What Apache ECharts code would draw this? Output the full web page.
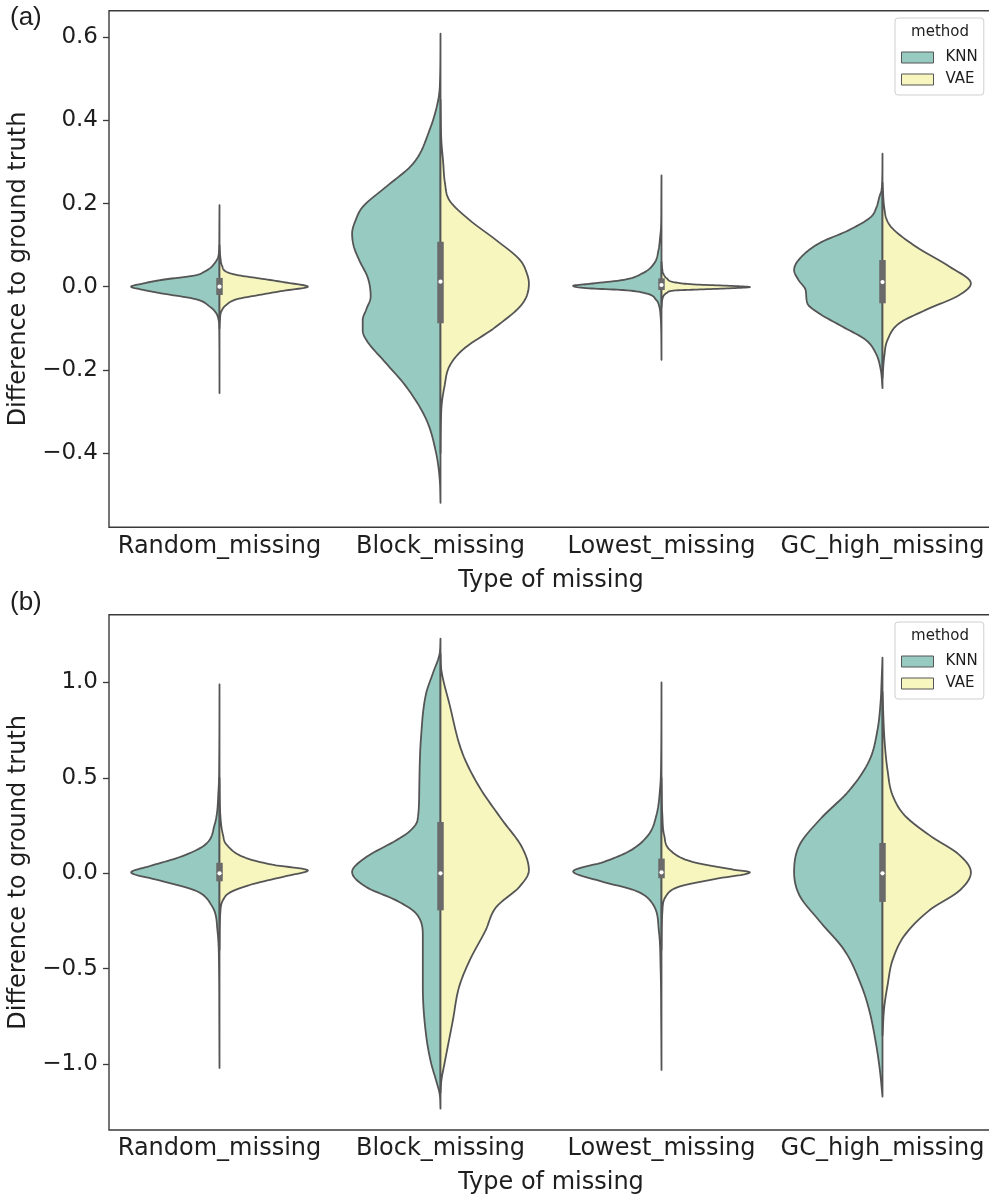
<!DOCTYPE html>
<html><head><meta charset="utf-8">
<script src="https://cdn.jsdelivr.net/npm/echarts@6/dist/echarts.min.js"></script>
<style>html,body{margin:0;padding:0;background:#fff}#c{width:989px;height:1196px}</style>
</head><body><div id="c"></div>
<script>
// ---------------- data ----------------
const categories = ['Random_missing', 'Block_missing', 'Lowest_missing', 'GC_high_missing'];
const methods = ['KNN', 'VAE'];
const xTitle = 'Type of missing';
const yTitle = 'Difference to ground truth';
const legendTitle = 'method';
const panelLabels = ['(a)', '(b)'];

const yTicksA = [-0.4, -0.2, 0, 0.2, 0.4, 0.6];
const yLabelsA = ['\u22120.4', '\u22120.2', '0.0', '0.2', '0.4', '0.6'];
const yTicksB = [-1.0, -0.5, 0, 0.5, 1.0];
const yLabelsB = ['\u22121.0', '\u22120.5', '0.0', '0.5', '1.0'];

// violin half profiles: [value, relative density (0..1)] from top to bottom
// panel (a)
const a_random_knn = [[0.196,0],[0.12,0.002],[0.088,0.004],[0.069,0.02],[0.055,0.06],[0.044,0.11],[0.035,0.18],[0.028,0.26],[0.016,0.66],[0.007,0.88],[0,1],[-0.007,0.88],[-0.016,0.66],[-0.03,0.27],[-0.048,0.11],[-0.063,0.04],[-0.08,0.01],[-0.1,0.003],[-0.256,0]];
const a_random_vae = [[0.1,0],[0.07,0.01],[0.05,0.03],[0.036,0.076],[0.028,0.2],[0.02,0.45],[0.01,0.75],[0,1],[-0.01,0.72],[-0.02,0.45],[-0.03,0.2],[-0.044,0.076],[-0.06,0.02],[-0.08,0.005],[-0.1,0]];
const a_block_knn = [[0.609,0],[0.5,0.005],[0.456,0.02],[0.376,0.125],[0.296,0.31],[0.24,0.617],[0.192,0.88],[0.16,0.96],[0.128,1.0],[0.096,0.98],[0.064,0.92],[0.02,0.82],[-0.024,0.79],[-0.055,0.84],[-0.08,0.88],[-0.105,0.88],[-0.128,0.84],[-0.184,0.617],[-0.24,0.39],[-0.32,0.16],[-0.4,0.05],[-0.46,0.01],[-0.52,0]];
const a_block_vae = [[0.45,0],[0.35,0.01],[0.3,0.03],[0.25,0.05],[0.208,0.1],[0.16,0.33],[0.112,0.63],[0.064,0.9],[0.03,0.98],[0.008,1.0],[-0.04,0.93],[-0.096,0.63],[-0.152,0.25],[-0.192,0.1],[-0.24,0.045],[-0.28,0.015],[-0.33,0.004],[-0.4,0]];
const a_lowest_knn = [[0.268,0],[0.2,0.002],[0.144,0.005],[0.12,0.015],[0.088,0.034],[0.056,0.083],[0.032,0.216],[0.016,0.44],[0.0067,0.82],[0.002,1.0],[-0.004,0.82],[-0.008,0.44],[-0.016,0.18],[-0.032,0.06],[-0.048,0.025],[-0.072,0.01],[-0.1,0.004],[-0.176,0]];
const a_lowest_vae = [[0.06,0],[0.04,0.01],[0.032,0.02],[0.02,0.06],[0.01,0.16],[0.005,0.4],[0.002,0.77],[-0.001,1.0],[-0.004,0.77],[-0.007,0.4],[-0.009,0.16],[-0.015,0.06],[-0.02,0.03],[-0.03,0.01],[-0.05,0]];
const a_gc_knn = [[0.32,0],[0.26,0.003],[0.232,0.012],[0.216,0.035],[0.19,0.07],[0.168,0.13],[0.136,0.38],[0.104,0.72],[0.064,0.95],[0.04,1.0],[0.016,0.95],[-0.008,0.87],[-0.04,0.85],[-0.064,0.72],[-0.096,0.455],[-0.128,0.19],[-0.16,0.076],[-0.2,0.02],[-0.244,0]];
const a_gc_vae = [[0.25,0],[0.23,0.005],[0.19,0.02],[0.16,0.05],[0.14,0.113],[0.096,0.38],[0.048,0.76],[0.008,1.0],[-0.02,0.87],[-0.056,0.49],[-0.088,0.19],[-0.128,0.057],[-0.168,0.02],[-0.22,0]];
// panel (b)
const b_random_knn = [[0.99,0],[0.6,0.003],[0.435,0.011],[0.252,0.057],[0.147,0.17],[0.084,0.455],[0.037,0.795],[0.005,1.0],[-0.037,0.68],[-0.089,0.28],[-0.168,0.09],[-0.3,0.023],[-0.51,0.005],[-0.8,0.002],[-1.02,0]];
const b_random_vae = [[0.5,0],[0.3,0.01],[0.2,0.04],[0.15,0.08],[0.08,0.3],[0.045,0.6],[0.015,1.0],[-0.015,0.75],[-0.06,0.35],[-0.1,0.12],[-0.14,0.04],[-0.2,0.01],[-0.4,0]];
const b_block_knn = [[1.23,0],[1.151,0.01],[1.047,0.087],[0.942,0.163],[0.715,0.22],[0.452,0.24],[0.278,0.26],[0.22,0.35],[0.173,0.5],[0.085,0.84],[0.007,1.0],[-0.072,0.84],[-0.142,0.5],[-0.211,0.275],[-0.334,0.2],[-0.596,0.2],[-0.858,0.16],[-0.997,0.105],[-1.085,0.05],[-1.155,0.01],[-1.233,0]];
const b_block_vae = [[1.15,0],[1.064,0.01],[0.889,0.1],[0.627,0.25],[0.452,0.44],[0.278,0.7],[0.138,0.92],[0.016,1.0],[-0.072,0.89],[-0.177,0.63],[-0.299,0.51],[-0.456,0.33],[-0.596,0.21],[-0.77,0.14],[-0.997,0.045],[-1.085,0.01],[-1.15,0]];
const b_lowest_knn = [[1.0,0],[0.6,0.004],[0.45,0.015],[0.3,0.06],[0.2,0.15],[0.12,0.35],[0.06,0.65],[0.01,1.0],[-0.04,0.7],[-0.09,0.3],[-0.16,0.1],[-0.3,0.03],[-0.5,0.01],[-0.8,0.003],[-1.03,0]];
const b_lowest_vae = [[0.5,0],[0.3,0.01],[0.2,0.03],[0.12,0.1],[0.06,0.35],[0.02,0.8],[0.005,1.0],[-0.03,0.6],[-0.07,0.2],[-0.12,0.05],[-0.2,0.01],[-0.4,0]];
const b_gc_knn = [[1.13,0],[1.01,0.01],[0.907,0.02],[0.75,0.057],[0.59,0.15],[0.435,0.375],[0.278,0.716],[0.147,0.94],[0.005,1.0],[-0.115,0.94],[-0.246,0.72],[-0.404,0.43],[-0.587,0.24],[-0.718,0.15],[-0.875,0.08],[-1.03,0.03],[-1.17,0]];
const b_gc_vae = [[0.95,0],[0.697,0.023],[0.54,0.057],[0.41,0.113],[0.304,0.25],[0.2,0.53],[0.094,0.875],[0.005,1.0],[-0.089,0.875],[-0.194,0.53],[-0.325,0.25],[-0.456,0.113],[-0.587,0.057],[-0.7,0.02],[-0.85,0]];

// inner box statistics per category
const boxQ1A = [-0.020, -0.088, -0.008, -0.040];
const boxQ3A = [0.021, 0.108, 0.020, 0.064];
const boxMedA = [0.0, 0.012, 0.004, 0.011];
const boxQ1B = [-0.042, -0.194, -0.026, -0.150];
const boxQ3B = [0.055, 0.269, 0.077, 0.159];
const boxMedB = [0.0, 0.0, 0.005, 0.0];

// ---------------- styles ----------------
const KNN_COLOR = '#97cac1';
const VAE_COLOR = '#f7f6bf';
const OUTLINE = '#555555';
const BOX_COLOR = '#6a6a6a';
const FRAME = '#3a3a3a';
const TEXT = '#1e1e1e';
const FONT = 'DejaVu Sans';
const VIOLIN_WIDTH = 0.8;

// monotone cubic (x as a function of pixel y) to draw smooth outlines
function smoothEdge(pts, n) {
  const N = pts.length;
  if (N < 3) return pts.slice();
  const ys = pts.map(p => p[1]), xs = pts.map(p => p[0]);
  const d = [], m = new Array(N);
  for (let k = 0; k < N - 1; k++) d.push((xs[k + 1] - xs[k]) / (ys[k + 1] - ys[k]));
  m[0] = d[0]; m[N - 1] = d[N - 2];
  for (let k = 1; k < N - 1; k++) m[k] = (d[k - 1] * d[k] <= 0) ? 0 : (d[k - 1] + d[k]) / 2;
  for (let k = 0; k < N - 1; k++) {
    if (d[k] === 0) { m[k] = 0; m[k + 1] = 0; continue; }
    const a = m[k] / d[k], b = m[k + 1] / d[k], s = a * a + b * b;
    if (s > 9) { const t = 3 / Math.sqrt(s); m[k] = t * a * d[k]; m[k + 1] = t * b * d[k]; }
  }
  const out = [];
  for (let k = 0; k < N - 1; k++) {
    const h = ys[k + 1] - ys[k];
    for (let s = 0; s < n; s++) {
      const t = s / n, t2 = t * t, t3 = t2 * t;
      const x = (2 * t3 - 3 * t2 + 1) * xs[k] + (t3 - 2 * t2 + t) * h * m[k] + (-2 * t3 + 3 * t2) * xs[k + 1] + (t3 - t2) * h * m[k + 1];
      out.push([x, ys[k] + t * h]);
    }
  }
  out.push(pts[N - 1]);
  return out;
}

function halfRenderer(profiles, side, fill) {
  return function (params, api) {
    const i = params.dataIndex;
    const prof = profiles[i];
    const band = api.size([1, 0])[0];
    const maxHalf = VIOLIN_WIDTH / 2 * band;
    const cx = api.coord([i, 0])[0];
    const raw = prof.map(([v, w]) => [cx + side * w * maxHalf, api.coord([i, v])[1]]);
    const edge = smoothEdge(raw, 10).map(p => [side > 0 ? Math.max(p[0], cx) : Math.min(p[0], cx), p[1]]);
    return {
      type: 'polygon',
      shape: { points: edge },
      style: { fill: fill, stroke: OUTLINE, lineWidth: 1.8, lineJoin: 'round' }
    };
  };
}

function boxRenderer(params, api) {
  const i = api.value(0);
  const lo = api.coord([i, api.value(1)]);
  const hi = api.coord([i, api.value(2)]);
  const md = api.coord([i, api.value(3)]);
  const bw = 6.5;
  return {
    type: 'group',
    children: [
      { type: 'rect', shape: { x: lo[0] - bw / 2, y: hi[1], width: bw, height: lo[1] - hi[1] }, style: { fill: BOX_COLOR } },
      { type: 'circle', shape: { cx: md[0], cy: md[1], r: 2.1 }, style: { fill: '#ffffff' } }
    ]
  };
}

const profA_knn = [a_random_knn, a_block_knn, a_lowest_knn, a_gc_knn];
const profA_vae = [a_random_vae, a_block_vae, a_lowest_vae, a_gc_vae];
const profB_knn = [b_random_knn, b_block_knn, b_lowest_knn, b_gc_knn];
const profB_vae = [b_random_vae, b_block_vae, b_lowest_vae, b_gc_vae];

const catData = categories.map((c, i) => [i, 0]);

function halfSeries(name, idx, profiles, side, color) {
  return {
    type: 'custom', name: name, xAxisIndex: idx, yAxisIndex: idx,
    renderItem: halfRenderer(profiles, side, color),
    itemStyle: { color: color },
    encode: { x: 0, y: 1 },
    data: catData, z: 2, silent: true
  };
}
function boxSeries(idx, q1, q3, med) {
  return {
    type: 'custom', name: 'box' + idx, xAxisIndex: idx, yAxisIndex: idx,
    renderItem: boxRenderer, encode: { x: 0, y: [1, 2] },
    data: categories.map((c, i) => [i, q1[i], q3[i], med[i]]), z: 3, silent: true
  };
}

function xAxisCfg(idx) {
  return {
    type: 'category', gridIndex: idx, data: categories,
    axisLine: { show: false },
    axisTick: { show: true, alignWithLabel: true, length: 6, lineStyle: { color: FRAME, width: 1.3 } },
    axisLabel: { color: TEXT, fontSize: 24, fontFamily: FONT, margin: 7, interval: 0, hideOverlap: false },
    name: xTitle, nameLocation: 'middle', nameGap: 41,
    nameTextStyle: { color: TEXT, fontSize: 24, fontFamily: FONT },
    splitLine: { show: false }
  };
}
function yAxisCfg(idx, min, max, ticks, labels) {
  return {
    type: 'value', gridIndex: idx, min: min, max: max,
    axisLine: { show: false },
    axisTick: { show: true, length: 6, customValues: ticks, lineStyle: { color: FRAME, width: 1.3 } },
    axisLabel: {
      show: true, customValues: ticks, color: TEXT, fontSize: 23, fontFamily: FONT, margin: 11,
      formatter: function (v) { const k = ticks.findIndex(t => Math.abs(t - v) < 1e-9); return k >= 0 ? labels[k] : ''; }
    },
    splitLine: { show: false },
    name: yTitle, nameLocation: 'middle', nameGap: 74, nameRotate: 90,
    nameTextStyle: { color: TEXT, fontSize: 24, fontFamily: FONT }
  };
}
function legendCfg(top) {
  return {
    data: methods, orient: 'vertical', left: 895, top: top, z: 10,
    padding: [32, 6, 8, 6], itemGap: 7, itemWidth: 32, itemHeight: 11,
    icon: 'rect', selectedMode: false,
    backgroundColor: 'rgba(255,255,255,0.85)', borderColor: '#cfcfcf', borderWidth: 1, borderRadius: 3,
    itemStyle: { borderColor: OUTLINE, borderWidth: 1 },
    textStyle: { color: TEXT, fontSize: 15, fontFamily: FONT, padding: [0, 0, 0, 7] }
  };
}

const chart = echarts.init(document.getElementById('c'), null, { renderer: 'canvas' });
chart.setOption({
  animation: false,
  backgroundColor: '#ffffff',
  grid: [
    { left: 109, top: 10.7, width: 884, height: 516.6, show: true, borderColor: FRAME, borderWidth: 1.4, backgroundColor: 'transparent', containLabel: false, outerBoundsMode: 'none' },
    { left: 109, top: 614.7, width: 884, height: 515.3, show: true, borderColor: FRAME, borderWidth: 1.4, backgroundColor: 'transparent', containLabel: false, outerBoundsMode: 'none' }
  ],
  xAxis: [xAxisCfg(0), xAxisCfg(1)],
  yAxis: [yAxisCfg(0, -0.579, 0.664, yTicksA, yLabelsA), yAxisCfg(1, -1.345, 1.355, yTicksB, yLabelsB)],
  legend: [legendCfg(18), legendCfg(622)],
  series: [
    halfSeries('KNN', 0, profA_knn, -1, KNN_COLOR),
    halfSeries('VAE', 0, profA_vae, 1, VAE_COLOR),
    boxSeries(0, boxQ1A, boxQ3A, boxMedA),
    halfSeries('KNN', 1, profB_knn, -1, KNN_COLOR),
    halfSeries('VAE', 1, profB_vae, 1, VAE_COLOR),
    boxSeries(1, boxQ1B, boxQ3B, boxMedB)
  ],
  graphic: [
    { type: 'text', z: 100, left: 10, top: 5, style: { text: panelLabels[0], fontSize: 26, fontFamily: 'Liberation Sans', fill: TEXT } },
    { type: 'text', z: 100, left: 10, top: 590, style: { text: panelLabels[1], fontSize: 26, fontFamily: 'Liberation Sans', fill: TEXT } },
    { type: 'text', z: 100, x: 940, y: 32, style: { text: legendTitle, fontSize: 15, fontFamily: FONT, fill: TEXT, align: 'center', verticalAlign: 'middle' } },
    { type: 'text', z: 100, x: 940, y: 636, style: { text: legendTitle, fontSize: 15, fontFamily: FONT, fill: TEXT, align: 'center', verticalAlign: 'middle' } }
  ]
});
</script>
</body></html>
